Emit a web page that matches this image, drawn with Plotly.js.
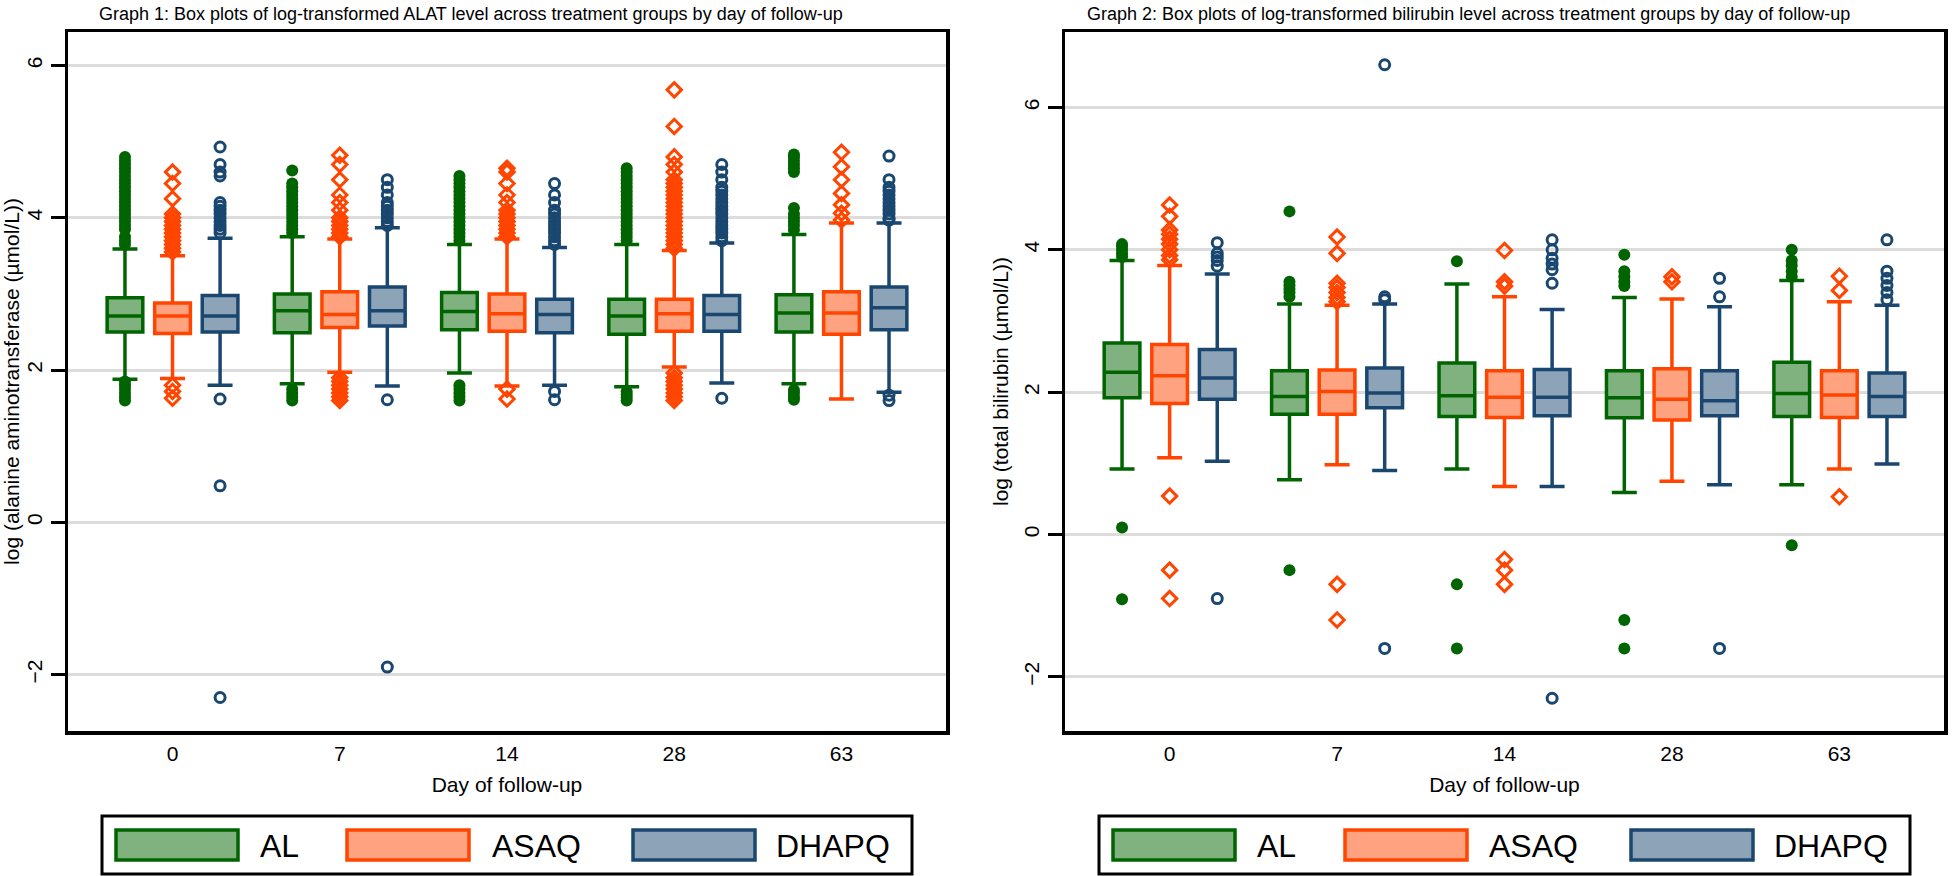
<!DOCTYPE html>
<html><head><meta charset="utf-8">
<script src="https://cdn.plot.ly/plotly-3.0.1.min.js"></script>
<style>html,body{margin:0;padding:0;background:#fff}</style>
</head><body><div id="chart" style="width:1952px;height:876px"></div>
<script>
// ---------- data ----------
const days = ['0', '7', '14', '28', '63'];
const groupNames = ['AL', 'ASAQ', 'DHAPQ'];

// Graph 1: log ALAT
const alat_AL_q1  = [2.50, 2.49, 2.53, 2.47, 2.50];
const alat_AL_med = [2.71, 2.78, 2.77, 2.71, 2.75];
const alat_AL_q3  = [2.95, 3.00, 3.02, 2.93, 2.99];
const alat_AL_lo  = [1.88, 1.82, 1.96, 1.78, 1.82];
const alat_AL_hi  = [3.59, 3.75, 3.65, 3.65, 3.78];
const alat_AL_out = [
  [3.65,3.7,3.75,3.85,3.9,3.95,4.0,4.05,4.1,4.15,4.2,4.25,4.3,4.35,4.4,4.45,4.5,4.55,4.6,4.65,4.7,4.75,4.8,1.85,1.8,1.75,1.7,1.65,1.6],
  [3.8,3.85,3.9,3.95,4.0,4.05,4.1,4.15,4.2,4.25,4.3,4.35,4.4,4.45,4.62,1.75,1.7,1.65,1.6],
  [3.7,3.75,3.8,3.85,3.9,3.95,4.0,4.05,4.1,4.15,4.2,4.25,4.3,4.35,4.4,4.45,4.5,4.55,1.8,1.75,1.7,1.65,1.6],
  [3.7,3.75,3.8,3.85,3.9,3.95,4.0,4.05,4.1,4.15,4.2,4.25,4.3,4.35,4.4,4.45,4.5,4.55,4.6,4.65,1.72,1.68,1.64,1.6],
  [3.84,3.9,3.95,4.0,4.05,4.13,4.6,4.65,4.7,4.75,4.8,4.83,1.74,1.7,1.65,1.61]
];
const alat_ASAQ_q1  = [2.48, 2.56, 2.51, 2.51, 2.47];
const alat_ASAQ_med = [2.71, 2.73, 2.74, 2.74, 2.75];
const alat_ASAQ_q3  = [2.88, 3.03, 3.00, 2.93, 3.03];
const alat_ASAQ_lo  = [1.89, 1.97, 1.79, 2.04, 1.62];
const alat_ASAQ_hi  = [3.50, 3.72, 3.72, 3.57, 3.93];
const alat_ASAQ_out = [
  [3.55,3.6,3.65,3.7,3.75,3.8,3.85,3.9,3.95,4.0,4.05,4.25,4.45,4.6,1.8,1.72,1.63],
  [3.75,3.8,3.85,3.9,3.95,4.0,4.1,4.2,4.3,4.5,4.7,4.82,1.9,1.85,1.8,1.75,1.7,1.65,1.6],
  [3.75,3.8,3.85,3.9,3.95,4.0,4.05,4.1,4.2,4.3,4.45,4.6,4.65,1.75,1.62],
  [3.6,3.65,3.7,3.75,3.8,3.85,3.9,3.95,4.0,4.05,4.1,4.15,4.2,4.25,4.3,4.35,4.4,4.45,4.5,4.6,4.7,4.8,5.2,5.68,1.96,1.9,1.85,1.8,1.75,1.7,1.65,1.6],
  [3.97,4.06,4.17,4.32,4.50,4.67,4.86]
];
const alat_DHAPQ_q1  = [2.50, 2.58, 2.49, 2.51, 2.53];
const alat_DHAPQ_med = [2.71, 2.78, 2.73, 2.73, 2.82];
const alat_DHAPQ_q3  = [2.98, 3.09, 2.93, 2.98, 3.09];
const alat_DHAPQ_lo  = [1.80, 1.79, 1.80, 1.83, 1.71];
const alat_DHAPQ_hi  = [3.73, 3.87, 3.61, 3.67, 3.93];
const alat_DHAPQ_out = [
  [3.8,3.85,3.9,3.95,4.0,4.05,4.1,4.15,4.2,4.55,4.6,4.7,4.93,1.62,0.48,-2.3],
  [3.9,3.95,4.0,4.05,4.1,4.15,4.2,4.3,4.4,4.5,1.61,-1.9],
  [3.65,3.7,3.75,3.8,3.85,3.9,3.95,4.0,4.05,4.1,4.2,4.3,4.45,1.72,1.61],
  [3.7,3.75,3.8,3.85,3.9,3.95,4.0,4.05,4.1,4.15,4.2,4.25,4.3,4.35,4.4,4.5,4.6,4.7,1.63],
  [3.97,4.0,4.05,4.1,4.15,4.2,4.25,4.3,4.35,4.4,4.5,4.81,1.67,1.6]
];

// Graph 2: log total bilirubin
const bili_AL_q1  = [1.92, 1.69, 1.66, 1.64, 1.66];
const bili_AL_med = [2.28, 1.94, 1.95, 1.92, 1.98];
const bili_AL_q3  = [2.69, 2.30, 2.41, 2.30, 2.42];
const bili_AL_lo  = [0.92, 0.77, 0.92, 0.59, 0.70];
const bili_AL_hi  = [3.85, 3.24, 3.52, 3.33, 3.57];
const bili_AL_out = [
  [3.9,3.95,4.0,4.05,4.08,0.1,-0.91],
  [3.34,3.4,3.45,3.5,3.55,4.54,-0.5],
  [3.84,-0.7,-1.6],
  [3.49,3.55,3.62,3.7,3.93,-1.2,-1.6],
  [3.62,3.7,3.78,3.85,4.0,-0.15]
];
const bili_ASAQ_q1  = [1.84, 1.69, 1.645, 1.61, 1.645];
const bili_ASAQ_med = [2.23, 2.01, 1.93, 1.90, 1.96];
const bili_ASAQ_q3  = [2.67, 2.31, 2.30, 2.33, 2.30];
const bili_ASAQ_lo  = [1.08, 0.98, 0.675, 0.75, 0.92];
const bili_ASAQ_hi  = [3.78, 3.22, 3.34, 3.31, 3.27];
const bili_ASAQ_out = [
  [3.86,3.92,4.0,4.08,4.15,4.22,4.28,4.47,4.63,0.54,-0.5,-0.9],
  [3.27,3.33,3.4,3.47,3.53,3.95,4.18,-0.7,-1.2],
  [3.49,3.55,3.99,-0.35,-0.5,-0.7],
  [3.55,3.62],
  [3.43,3.63,0.53]
];
const bili_DHAPQ_q1  = [1.90, 1.78, 1.67, 1.67, 1.66];
const bili_DHAPQ_med = [2.20, 1.99, 1.93, 1.88, 1.94];
const bili_DHAPQ_q3  = [2.60, 2.34, 2.32, 2.30, 2.27];
const bili_DHAPQ_lo  = [1.03, 0.90, 0.675, 0.70, 0.99];
const bili_DHAPQ_hi  = [3.66, 3.24, 3.16, 3.20, 3.22];
const bili_DHAPQ_out = [
  [3.77,3.85,3.9,3.95,4.10,-0.9],
  [3.3,3.34,6.6,-1.6],
  [3.53,3.72,3.8,3.88,4.0,4.14,-2.3],
  [3.34,3.60,-1.6],
  [3.30,3.4,3.5,3.6,3.70,4.14]
];

// ---------- styles ----------
const lineCol = {AL: '#006400', ASAQ: '#ff4500', DHAPQ: '#1a476f'};
const fillCol = {AL: '#80b280', ASAQ: '#ffa280', DHAPQ: '#8da3b7'};
const symbol  = {AL: 'circle', ASAQ: 'diamond-open', DHAPQ: 'circle-open'};
const msize   = {AL: 12, ASAQ: 11, DHAPQ: 10};
const mline   = {AL: 0, ASAQ: 3, DHAPQ: 3};

function boxTrace(g, xa, ya, q1, med, q3, lo, hi, out) {
  return {
    type: 'box', name: g, orientation: 'v',
    x: days, q1: q1, median: med, q3: q3, lowerfence: lo, upperfence: hi, y: out,
    xaxis: xa, yaxis: ya,
    boxpoints: 'outliers', jitter: 0, pointpos: 0,
    fillcolor: fillCol[g], line: {color: lineCol[g], width: 3.5},
    whiskerwidth: 0.7,
    marker: {symbol: symbol[g], color: lineCol[g], size: msize[g], opacity: 1,
             line: {width: mline[g], color: lineCol[g]}},
    offsetgroup: g, showlegend: false, hoverinfo: 'skip'
  };
}

const data = [
  boxTrace('AL', 'x', 'y', alat_AL_q1, alat_AL_med, alat_AL_q3, alat_AL_lo, alat_AL_hi, alat_AL_out),
  boxTrace('ASAQ', 'x', 'y', alat_ASAQ_q1, alat_ASAQ_med, alat_ASAQ_q3, alat_ASAQ_lo, alat_ASAQ_hi, alat_ASAQ_out),
  boxTrace('DHAPQ', 'x', 'y', alat_DHAPQ_q1, alat_DHAPQ_med, alat_DHAPQ_q3, alat_DHAPQ_lo, alat_DHAPQ_hi, alat_DHAPQ_out),
  boxTrace('AL', 'x2', 'y2', bili_AL_q1, bili_AL_med, bili_AL_q3, bili_AL_lo, bili_AL_hi, bili_AL_out),
  boxTrace('ASAQ', 'x2', 'y2', bili_ASAQ_q1, bili_ASAQ_med, bili_ASAQ_q3, bili_ASAQ_lo, bili_ASAQ_hi, bili_ASAQ_out),
  boxTrace('DHAPQ', 'x2', 'y2', bili_DHAPQ_q1, bili_DHAPQ_med, bili_DHAPQ_q3, bili_DHAPQ_lo, bili_DHAPQ_hi, bili_DHAPQ_out)
];

// ---------- layout ----------
const W = 1952, H = 876;
const px = v => v / W, py = v => 1 - v / H;
const FONT = 'Arial, "Liberation Sans", Helvetica, sans-serif';

function xAxis(d0, d1, anchor) {
  return {
    domain: [px(d0), px(d1)], anchor: anchor, type: 'category', range: [-0.625, 4.625],
    showline: true, mirror: true, linecolor: '#000', linewidth: 3.5,
    ticks: 'outside', ticklen: 1, tickcolor: 'rgba(0,0,0,0)',
    showgrid: false, zeroline: false, tickfont: {size: 21, color: '#000'},
    title: {text: 'Day of follow-up', font: {size: 21, color: '#000'}, standoff: 14},
    fixedrange: true
  };
}
function yAxis(range, title, anchor) {
  return {
    domain: [py(731), py(32)], anchor: anchor, range: range, tickvals: [-2, 0, 2, 4, 6],
    showline: true, mirror: true, linecolor: '#000', linewidth: 3.5,
    showgrid: true, gridcolor: '#dcdcdc', gridwidth: 3, zeroline: false,
    ticks: 'outside', ticklen: 14, tickwidth: 3, tickcolor: '#000',
    tickangle: -90, tickfont: {size: 21, color: '#000'},
    title: {text: title, font: {size: 21, color: '#000'}, standoff: 6},
    fixedrange: true
  };
}

const annotations = [];
const shapes = [];
function title(text, x0) {
  annotations.push({text: text, xref: 'paper', yref: 'paper', x: px(x0), y: py(14),
    xanchor: 'left', yanchor: 'middle', showarrow: false, font: {size: 18, color: '#000'}});
}
title('Graph 1: Box plots of log-transformed ALAT level across treatment groups by day of follow-up', 97);
title('Graph 2: Box plots of log-transformed bilirubin level across treatment groups by day of follow-up', 1085);

function legend(box, swatchX, textX) {
  shapes.push({type: 'rect', xref: 'paper', yref: 'paper', x0: px(box[0]), x1: px(box[1]),
    y0: py(874), y1: py(816), line: {color: '#000', width: 3}, fillcolor: '#fff'});
  groupNames.forEach((g, i) => {
    shapes.push({type: 'rect', xref: 'paper', yref: 'paper', x0: px(swatchX[i]), x1: px(swatchX[i] + 122),
      y0: py(860), y1: py(830), line: {color: lineCol[g], width: 3.5}, fillcolor: fillCol[g]});
    annotations.push({text: g, xref: 'paper', yref: 'paper', x: px(textX[i]), y: py(846),
      xanchor: 'left', yanchor: 'middle', showarrow: false, font: {size: 32, color: '#000'}});
  });
}
legend([102, 912], [116, 347, 633], [258, 490, 774]);
legend([1099, 1910], [1113, 1345, 1631], [1255, 1487, 1772]);

const layout = {
  width: W, height: H, margin: {l: 0, r: 0, t: 0, b: 0},
  paper_bgcolor: '#fff', plot_bgcolor: '#fff',
  font: {family: FONT, color: '#000'},
  boxmode: 'group', boxgap: 0.147, boxgroupgap: 0.25, showlegend: false,
  xaxis: xAxis(68, 946, 'y'),
  yaxis: yAxis([-2.74, 6.44], 'log (alanine aminotransferase (µmol/L))', 'x'),
  xaxis2: xAxis(1065, 1944, 'y2'),
  yaxis2: yAxis([-2.76, 7.06], 'log (total bilirubin (µmol/L))', 'x2'),
  annotations: annotations, shapes: shapes
};

Plotly.newPlot('chart', data, layout, {displayModeBar: false, staticPlot: true});
</script></body></html>
